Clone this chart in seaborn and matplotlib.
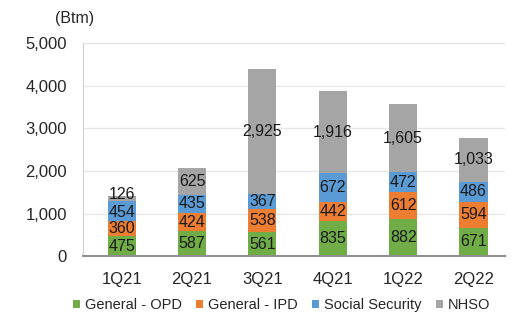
import matplotlib.pyplot as plt
import numpy as np
import pandas as pd
import seaborn as sns

quarters = ["1Q21", "2Q21", "3Q21", "4Q21", "1Q22", "2Q22"]
opd = [475, 587, 561, 835, 882, 671]
ipd = [360, 424, 538, 442, 612, 594]
social = [454, 435, 367, 672, 472, 486]
nhso = [126, 625, 2925, 1916, 1605, 1033]

series = ["General - OPD", "General - IPD", "Social Security", "NHSO"]
colors = ["#70AD47", "#ED7D31", "#5B9BD5", "#A5A5A5"]

sns.set_style("white")
plt.rcParams['font.family'] = ['Liberation Sans', 'DejaVu Sans']

fig = plt.figure(figsize=(5.15, 3.12), dpi=100)
ax = fig.add_axes([0.161, 0.179, 0.82, 0.683])

bottom = np.zeros(len(quarters))
for name, vals, col in zip(series, [opd, ipd, social, nhso], colors):
    df = pd.DataFrame({"quarter": quarters, "value": vals})
    sns.barplot(data=df, x="quarter", y="value", color=col, bottom=bottom,
                width=0.4, label=name, ax=ax, saturation=1, linewidth=0)
    bottom = bottom + np.array(vals)

# labels inside segments
all_labels = []
for cont, vals in zip(ax.containers, [opd, ipd, social, nhso]):
    all_labels.append(ax.bar_label(cont, labels=[f"{v:,}" for v in vals],
                                   label_type="center", fontsize=11.5,
                                   color="#1a1a1a"))
# small 1Q21 NHSO segment: nudge label up a little
all_labels[3][0].xyann = (0, 3)
all_labels[2][0].xyann = (0, -1)

ax.set_ylim(0, 5000)
ax.set_yticks(range(0, 5001, 1000))
ax.set_yticklabels([f"{v:,}" for v in range(0, 5001, 1000)], fontsize=12)
ax.tick_params(axis="x", labelsize=12, pad=8)
ax.tick_params(axis="y", pad=8)
ax.set_xlabel("")
ax.set_ylabel("")
ax.yaxis.grid(True, color="#e6e6e6", linewidth=1)
ax.set_axisbelow(True)
sns.despine(ax=ax, top=True, right=True)
ax.spines["left"].set_color("#d0d0d0")
ax.spines["bottom"].set_color("#909090")
ax.spines["bottom"].set_linewidth(1.5)
ax.set_xlim(-0.55, 5.45)

ax.text(-0.02, 1.115, "(Btm)", transform=ax.transAxes, fontsize=11.5,
        ha="center", va="center")

ax.legend(loc="upper center", bbox_to_anchor=(0.47, -0.135), ncol=4, frameon=False,
          fontsize=10.5, handlelength=0.5, handleheight=0.5, handletextpad=0.3,
          columnspacing=1.0)

fig.savefig("out.png", dpi=100)
